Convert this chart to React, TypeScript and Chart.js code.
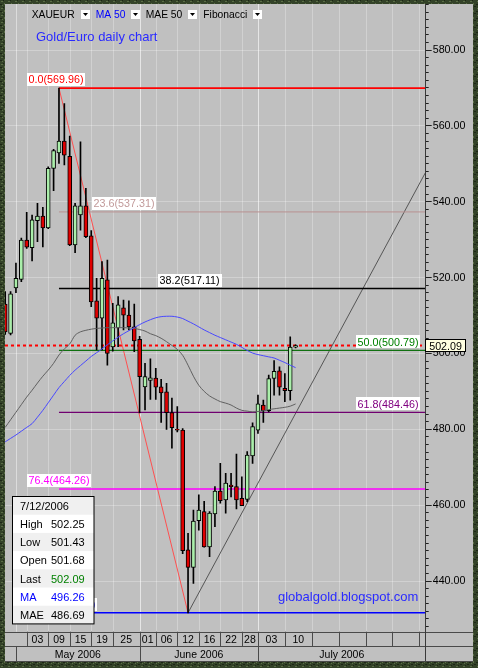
import React, { useEffect, useRef } from 'react';
import { Chart, registerables } from 'chart.js';

Chart.register(...registerables);

// ---- data (trading-day index 0 = 27 Apr 2006) ----
const opens = [513.0, 505.3, 517.3, 519.5, 529.9, 527.9, 535.0, 536.2, 533.1, 548.8,
  552.9, 556.0, 552.0, 528.6, 536.5, 538.9, 531.0, 513.9, 509.3, 519.4,
  501.7, 506.7, 512.0, 510.1, 507.0, 503.7, 491.2, 492.9, 493.5, 491.2,
  489.9, 484.4, 480.0, 479.8, 448.2, 443.6, 455.9, 458.3, 449.0, 457.7,
  463.7, 461.4, 465.3, 464.9, 461.8, 461.5, 473.0, 479.8, 486.4, 484.9,
  493.4, 495.4, 490.8, 490.2, 501.68];
const highs = [516.3, 516.3, 523.8, 530.4, 537.2, 536.5, 539.6, 538.5, 549.2, 553.8,
  569.96, 565.9, 557.3, 539.6, 555.8, 543.5, 532.4, 519.8, 524.2, 524.6,
  513.2, 515.0, 514.1, 513.9, 513.0, 504.5, 497.4, 498.6, 496.1, 493.2,
  492.1, 488.2, 486.0, 480.2, 452.6, 458.7, 462.7, 461.0, 458.3, 464.9,
  471.0, 468.4, 468.4, 473.5, 467.5, 474.1, 481.7, 489.0, 487.7, 494.3,
  498.1, 496.5, 494.7, 504.4, 502.25];
const lows = [505.0, 504.9, 516.0, 518.9, 527.7, 524.4, 529.5, 528.1, 532.9, 542.9,
  550.1, 549.7, 528.4, 526.6, 532.5, 530.5, 512.3, 500.9, 500.9, 496.9,
  500.6, 501.8, 506.2, 506.2, 500.5, 484.3, 485.1, 487.9, 487.9, 481.8,
  480.0, 475.0, 479.3, 447.2, 431.62, 439.4, 453.4, 448.9, 446.4, 454.3,
  460.5, 457.9, 462.2, 459.0, 459.9, 460.9, 471.0, 478.9, 481.8, 484.6,
  489.0, 489.0, 487.3, 487.7, 501.43];
const closes = [505.7, 515.7, 519.8, 529.9, 528.0, 535.2, 536.2, 533.1, 548.8, 553.5,
  556.0, 552.3, 528.6, 538.9, 538.9, 530.8, 513.6, 509.3, 519.8, 500.0,
  508.1, 512.8, 510.1, 507.0, 503.3, 493.9, 493.9, 493.6, 491.1, 489.6,
  484.4, 480.4, 479.8, 448.0, 443.6, 455.8, 458.7, 449.0, 457.9, 463.7,
  461.2, 465.8, 464.9, 461.4, 459.9, 473.2, 480.7, 486.7, 484.9, 493.4,
  495.3, 491.1, 490.2, 501.7, 502.09];
const maValues = [476.7, 477.6, 478.5, 479.5, 480.5, 481.5, 483.2, 485.0, 487.0, 489.0,
  491.0, 492.6, 494.2, 495.6, 496.8, 498.0, 499.2, 500.2, 501.2, 502.3,
  503.3, 504.3, 505.2, 506.0, 506.8, 507.6, 508.3, 508.9, 509.4, 509.7,
  509.8, 509.8, 509.6, 509.2, 508.5, 507.8, 507.0, 506.2, 505.5, 504.8,
  504.2, 503.6, 503.0, 502.4, 501.6, 500.8, 500.1, 499.7, 499.4, 499.1,
  498.8, 498.2, 497.6, 496.9, 496.26];
const maeValues = [480.5, 482.5, 484.5, 486.5, 488.5, 490.3, 492.2, 494.0, 495.6, 497.4,
  499.6, 501.2, 502.5, 504.8, 505.7, 506.1, 506.4, 506.6, 506.7, 506.8,
  506.8, 506.8, 506.8, 506.7, 506.6, 506.3, 505.9, 505.2, 504.7, 504.0,
  503.1, 502.1, 501.1, 499.5, 496.9, 494.0, 491.6, 490.0, 488.8, 488.0,
  487.3, 486.9, 486.4, 485.6, 485.0, 484.8, 484.6, 484.7, 484.9, 485.2,
  485.4, 485.6, 485.8, 486.1, 486.69];

const fibLevels = [0.0, 23.6, 38.2, 50.0, 61.8, 76.4, 100.0];
const fibPrices = [569.96, 537.31, 517.11, 500.79, 484.46, 464.26, 431.62];
const fibTextColors = ['#ff0000', '#c29a9a', '#000000', '#008000', '#800080', '#ff00ff', '#0000ff'];
const fibLineColors = ['#ff0000', '#b89090', '#000000', '#107010', '#700070', '#ff00ff', '#0000ff'];
const fibLineWidths = [1.6, 1, 1.4, 1.2, 1.3, 1.4, 1.4];
const fibLabelAt = [4.06, 16.1, 28.5, 65.2, 65.2, 4.06, 4.06];

const swingHighIdx = 10;
const swingLowIdx = 34;
const trendEndIdx = 78.19;
const trendEndPrice = 547.8;
const lastPrice = 502.09;

const dayTickIdx = [4, 8, 12, 16, 20, 25, 28, 32, 36, 40, 44, 47, 52, 57, 62, 67, 72, 77];
const dayTickLabels = ['03', '09', '15', '19', '25', '01', '06', '12', '16', '22', '28', '03', '10', '', '', '', '', ''];
const monthStartIdx = [2, 25, 47];
const monthLabels = ['May 2006', 'June 2006', 'July 2006'];

const X_MIN = -0.035;
const X_MAX = 78.19;
const Y_MIN = 426.64;
const Y_MAX = 592.13;

const toolbarItems = ['XAUEUR', 'MA 50', 'MAE 50', 'Fibonacci'];
const toolbarColors = ['#000000', '#0000ff', '#000000', '#000000'];
const toolbarX = [31.7, 95.7, 145.7, 203.3];

const lastDate = '7/12/2006';

const FONT = '"Liberation Sans", Arial, sans-serif';
const BG = '#c0c0c0';
const GREEN_BODY = '#aaeeaa';
const RED_BODY = '#e00000';

function framePattern(ctx: CanvasRenderingContext2D) {
  const c = document.createElement('canvas');
  c.width = 7; c.height = 7;
  const g = c.getContext('2d')!;
  g.fillStyle = '#334228'; g.fillRect(0, 0, 7, 7);
  g.fillStyle = '#5a6d46'; g.fillRect(1, 1, 2, 1); g.fillRect(4, 3, 1, 2); g.fillRect(2, 5, 1, 1);
  g.fillStyle = '#1c2615'; g.fillRect(3, 0, 1, 1); g.fillRect(0, 4, 2, 1); g.fillRect(5, 6, 2, 1);
  return ctx.createPattern(c, 'repeat');
}

function hline(ctx: CanvasRenderingContext2D, x1: number, x2: number, y: number) {
  const yy = Math.round(y) + 0.5;
  ctx.beginPath(); ctx.moveTo(x1, yy); ctx.lineTo(x2, yy); ctx.stroke();
}
function vline(ctx: CanvasRenderingContext2D, x: number, y1: number, y2: number) {
  const xx = Math.round(x) + 0.5;
  ctx.beginPath(); ctx.moveTo(xx, y1); ctx.lineTo(xx, y2); ctx.stroke();
}

const decor = {
  id: 'decor',
  beforeDraw(chart: any) {
    const { ctx, width, height } = chart;
    ctx.save();
    ctx.fillStyle = BG;
    ctx.fillRect(0, 0, width, height);
    ctx.restore();
  },
  beforeDatasetsDraw(chart: any) {
    const { ctx, chartArea: a, scales } = chart;
    const x = scales.x;
    ctx.save();
    ctx.lineWidth = 1;
    ctx.strokeStyle = 'rgba(255,255,255,0.28)';
    dayTickIdx.forEach((i) => vline(ctx, x.getPixelForValue(i), a.top, a.bottom));
    ctx.strokeStyle = 'rgba(255,255,255,0.45)';
    monthStartIdx.forEach((i) => vline(ctx, x.getPixelForValue(i), a.top, a.bottom));
    ctx.restore();
  },
  afterDatasetsDraw(chart: any) {
    const { ctx, scales } = chart;
    const x = scales.x, y = scales.y;
    ctx.save();
    ctx.font = `10.75px ${FONT}`;
    ctx.textBaseline = 'alphabetic';
    fibLevels.forEach((lv, k) => {
      const label = `${lv.toFixed(1)}(${fibPrices[k].toFixed(2)})`;
      const lx = x.getPixelForValue(fibLabelAt[k]);
      const ly = y.getPixelForValue(fibPrices[k]);
      const w = ctx.measureText(label).width;
      ctx.fillStyle = '#ffffff';
      ctx.fillRect(Math.round(lx), Math.round(ly - 15), Math.ceil(w + 3), 13);
      ctx.fillStyle = fibTextColors[k];
      ctx.fillText(label, Math.round(lx) + 1.5, ly - 4.8);
    });
    ctx.restore();
  },
  afterDraw(chart: any) {
    const { ctx, chartArea: a, scales, width, height } = chart;
    const x = scales.x, y = scales.y;
    const n = closes.length - 1;
    ctx.save();

    // toolbar
    ctx.font = `10.3px ${FONT}`;
    ctx.textBaseline = 'alphabetic';
    toolbarItems.forEach((t, k) => {
      ctx.fillStyle = toolbarColors[k];
      ctx.fillText(t, toolbarX[k], 18.3);
      const bx = toolbarX[k] + ctx.measureText(t).width + 6;
      ctx.fillStyle = '#ffffff';
      ctx.fillRect(Math.round(bx), 10, 9, 9);
      ctx.fillStyle = '#000000';
      ctx.beginPath();
      ctx.moveTo(Math.round(bx) + 2, 13);
      ctx.lineTo(Math.round(bx) + 7, 13);
      ctx.lineTo(Math.round(bx) + 4.5, 16);
      ctx.closePath();
      ctx.fill();
    });

    // title and watermark
    ctx.font = `13px ${FONT}`;
    ctx.fillStyle = '#2a2aff';
    ctx.fillText('Gold/Euro daily chart', 36, 41);
    ctx.fillText('globalgold.blogspot.com', 278, 601);

    // info box
    const infoLabels = [lastDate, 'High', 'Low', 'Open', 'Last', 'MA', 'MAE'];
    const infoValues = ['', highs[n].toFixed(2), lows[n].toFixed(2), opens[n].toFixed(2),
      closes[n].toFixed(2), maValues[n].toFixed(2), maeValues[n].toFixed(2)];
    const infoColors = ['#000', '#000', '#000', '#000', '#000', '#0000ff', '#000'];
    const valColors = ['#000', '#000', '#000', '#000', '#008000', '#0000ff', '#000'];
    const bx0 = 12.5, by0 = 496.5, bw = 81.5, rh = 18.2;
    ctx.fillStyle = '#ffffff';
    ctx.fillRect(bx0, by0, bw, rh * 7);
    for (let r = 0; r < 7; r++) {
      if (r % 2 === 0) {
        ctx.fillStyle = '#f0f0f0';
        ctx.fillRect(bx0, by0 + r * rh, bw, rh);
      }
    }
    ctx.strokeStyle = '#000000';
    ctx.lineWidth = 1;
    ctx.strokeRect(bx0, by0, bw, rh * 7);
    ctx.font = `11px ${FONT}`;
    for (let r = 0; r < 7; r++) {
      const ty = by0 + r * rh + 13.3;
      ctx.fillStyle = infoColors[r];
      ctx.fillText(infoLabels[r], 20, ty);
      ctx.fillStyle = valColors[r];
      ctx.fillText(infoValues[r], 51, ty);
    }

    // date axis
    const axTop = a.bottom, axMid = 646, axBot = 661;
    ctx.strokeStyle = '#4a4a4a';
    ctx.lineWidth = 1;
    hline(ctx, 5, 473, axTop);
    hline(ctx, 5, 473, axMid);
    hline(ctx, 5, 473, axBot);
    ctx.font = `10.5px ${FONT}`;
    ctx.fillStyle = '#000000';
    ctx.textAlign = 'center';
    dayTickIdx.forEach((i, k) => {
      const px = x.getPixelForValue(i);
      vline(ctx, px, axTop, axMid);
      const nx = k + 1 < dayTickIdx.length ? x.getPixelForValue(dayTickIdx[k + 1]) : a.right;
      if (dayTickLabels[k]) ctx.fillText(dayTickLabels[k], (px + nx) / 2, 643.3);
    });
    monthStartIdx.forEach((i, k) => {
      const px = x.getPixelForValue(i);
      vline(ctx, px, axMid, axBot);
      const nx = k + 1 < monthStartIdx.length ? x.getPixelForValue(monthStartIdx[k + 1]) : a.right;
      ctx.fillText(monthLabels[k], (px + nx) / 2, 657.5);
    });
    ctx.strokeStyle = '#3a3a3a';
    vline(ctx, a.right - 0.5, a.top, axBot);
    ctx.textAlign = 'left';

    // major ticks longer
    ctx.strokeStyle = '#202020';
    for (let v = 440; v <= 580; v += 20) {
      hline(ctx, a.right, a.right + 6, y.getPixelForValue(v) - 0.5);
    }

    // last price tag
    const ty = y.getPixelForValue(lastPrice);
    ctx.fillStyle = '#ffffe1';
    ctx.fillRect(Math.round(a.right) - 0.5, Math.round(ty - 6.2) + 0.5, 40, 12);
    ctx.strokeStyle = '#000000';
    ctx.strokeRect(Math.round(a.right) - 0.5, Math.round(ty - 6.2) + 0.5, 40, 12);
    ctx.fillStyle = '#000000';
    ctx.font = `10.7px ${FONT}`;
    ctx.fillText(lastPrice.toFixed(2), a.right + 3.5, ty + 4);

    // frame
    const pat = framePattern(ctx);
    ctx.fillStyle = pat || '#334228';
    ctx.fillRect(0, 0, width, 4);
    ctx.fillRect(0, 0, 5, height);
    ctx.fillRect(width - 5, 0, 5, height);
    ctx.fillRect(0, 662, width, height - 662);
    ctx.restore();
  },
};

export default function App() {
  const ref = useRef<HTMLCanvasElement>(null);
  useEffect(() => {
    if (!ref.current) return;
    const idx = closes.map((_, i) => i);
    const chart = new Chart(ref.current, {
      type: 'bar',
      data: {
        datasets: [
          {
            type: 'bar',
            label: 'body',
            data: idx.map((i) => ({ x: i, y: [opens[i], closes[i]] })) as any,
            backgroundColor: idx.map((i) => (closes[i] >= opens[i] ? GREEN_BODY : RED_BODY)),
            borderColor: '#000000',
            borderWidth: 1,
            borderSkipped: false,
            barThickness: 4,
            grouped: false,
            order: 1,
          } as any,
          {
            type: 'bar',
            label: 'wick',
            data: idx.map((i) => ({ x: i, y: [lows[i], highs[i]] })) as any,
            backgroundColor: '#000000',
            borderWidth: 0,
            barThickness: 1,
            grouped: false,
            order: 2,
          } as any,
          {
            type: 'line',
            label: 'MA 50',
            data: idx.map((i) => ({ x: i, y: maValues[i] })),
            borderColor: '#4848ff',
            borderWidth: 1,
            pointRadius: 0,
            tension: 0.3,
            order: 0,
          } as any,
          {
            type: 'line',
            label: 'MAE 50',
            data: idx.map((i) => ({ x: i, y: maeValues[i] })),
            borderColor: '#606060',
            borderWidth: 1,
            pointRadius: 0,
            tension: 0.3,
            order: 0,
          } as any,
          ...fibPrices.map((p, k) => ({
            type: 'line',
            label: `fib ${fibLevels[k]}`,
            data: [{ x: swingHighIdx, y: p }, { x: X_MAX, y: p }],
            borderColor: fibLineColors[k],
            borderWidth: fibLineWidths[k],
            pointRadius: 0,
            order: 3,
          } as any)),
          {
            type: 'line',
            label: 'fib trend',
            data: [{ x: swingHighIdx, y: highs[swingHighIdx] }, { x: swingLowIdx, y: lows[swingLowIdx] }],
            borderColor: '#ff5050',
            borderWidth: 1,
            pointRadius: 0,
            order: 3,
          } as any,
          {
            type: 'line',
            label: 'trendline',
            data: [{ x: swingLowIdx, y: lows[swingLowIdx] }, { x: trendEndIdx, y: trendEndPrice }],
            borderColor: '#555555',
            borderWidth: 1,
            pointRadius: 0,
            order: 3,
          } as any,
          {
            type: 'line',
            label: 'last',
            data: [{ x: X_MIN, y: lastPrice }, { x: X_MAX, y: lastPrice }],
            borderColor: '#ff0000',
            borderWidth: 2,
            borderDash: [3, 3],
            pointRadius: 0,
            order: 3,
          } as any,
        ],
      },
      options: {
        responsive: false,
        animation: false,
        devicePixelRatio: 1,
        layout: { padding: { left: 5, top: 4, right: 0, bottom: 36.3 } },
        plugins: { legend: { display: false }, tooltip: { enabled: false } },
        scales: {
          x: { type: 'linear', min: X_MIN, max: X_MAX, offset: false, display: false, grid: { offset: false } },
          y: {
            type: 'linear',
            position: 'right',
            min: Y_MIN,
            max: Y_MAX,
            afterFit: (s: any) => {
              s.width = 52.3;
              s.paddingTop = 0;
              s.paddingBottom = 0;
            },
            ticks: {
              stepSize: 2,
              autoSkip: false,
              includeBounds: false,
              padding: 4,
              color: '#000000',
              font: { family: FONT, size: 10.7 },
              callback: (v: any) => (Number(v) % 20 === 0 ? Number(v).toFixed(2) : ''),
            },
            grid: {
              drawOnChartArea: true,
              color: (c: any) => (c.tick && Math.round(c.tick.value) % 20 === 0 ? 'rgba(255,255,255,0.28)' : 'rgba(0,0,0,0)'),
              tickColor: '#202020',
              tickLength: 3,
              lineWidth: 1,
            },
            border: { display: true, color: '#3a3a3a' },
          } as any,
        },
      } as any,
      plugins: [decor],
    });
    return () => chart.destroy();
  }, []);
  return (
    <div style={{ position: 'fixed', left: 0, top: 0, width: 478, height: 668 }}>
      <canvas ref={ref} width={478} height={668} style={{ display: 'block' }} />
    </div>
  );
}
